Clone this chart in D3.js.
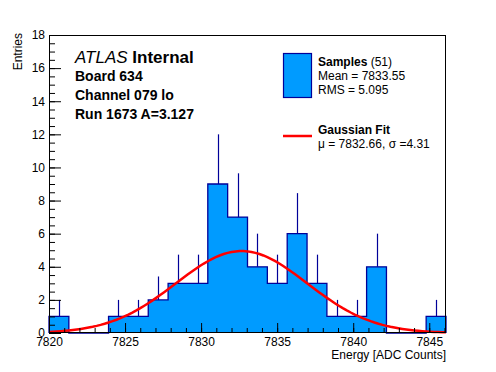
<!DOCTYPE html>
<html>
<head>
<meta charset="utf-8">
<script src="https://cdn.jsdelivr.net/npm/d3@7"></script>
<style>
  body { margin: 0; background: #fff; }
  svg { display: block; font-family: "Liberation Sans", Arial, Helvetica, sans-serif; }
</style>
</head>
<body>
<div id="chart"></div>
<script>
// histogram: 20 bins between xMin and xMax
const xRange = [7820, 7846.1];
const counts = [1, 0, 0, 1, 1, 2, 3, 3, 9, 7, 4, 3, 6, 3, 1, 1, 4, 0, 0, 1];
const xTicks = [7820, 7825, 7830, 7835, 7840, 7845];
const yTicks = [0, 2, 4, 6, 8, 10, 12, 14, 16, 18];

// gaussian fit parameters
const fitMu = 7832.66, fitSigma = 4.31, fitAmp = 4.95;

const infoLines = ["Board 634", "Channel 079 lo", "Run 1673 A=3.127"];

const width = 496, height = 372,
      margin = ({ top: 35, right: 50, bottom: 39, left: 49 });

const fillColor = "#009bff", lineColor = "#000099", fitColor = "#ff0000";

let svg = d3.select("#chart")
    .append("svg")
    .attr("width", width)
    .attr("height", height);

let x = d3.scaleLinear()
    .domain(xRange)
    .range([margin.left, width - margin.right]);

let y = d3.scaleLinear()
    .domain([0, 18])
    .range([height - margin.bottom, margin.top]);

const binW = (xRange[1] - xRange[0]) / counts.length;
const bins = counts.map((c, i) => ({ x0: xRange[0] + i * binW, x1: xRange[0] + (i + 1) * binW, n: c }));

// step outline points, also used for the fill
let pts = [[x(bins[0].x0), y(0)]];
bins.forEach(b => { pts.push([x(b.x0), y(b.n)]); pts.push([x(b.x1), y(b.n)]); });
pts.push([x(bins[bins.length - 1].x1), y(0)]);

svg.append("path")
    .attr("d", d3.line()(pts) + "Z")
    .attr("fill", fillColor);

svg.append("path")
    .attr("d", d3.line()(pts))
    .attr("fill", "none")
    .attr("stroke", lineColor)
    .attr("stroke-width", 1.3);

// error bars (upper half shows above the bar)
svg.append("g")
    .selectAll("line")
    .data(bins.filter(b => b.n > 0))
    .join("line")
    .attr("x1", b => Math.round(x((b.x0 + b.x1) / 2)) + 0.5)
    .attr("x2", b => Math.round(x((b.x0 + b.x1) / 2)) + 0.5)
    .attr("y1", b => y(b.n))
    .attr("y2", b => y(b.n + Math.sqrt(b.n)))
    .attr("stroke", lineColor)
    .attr("stroke-width", 1.2);

// gaussian fit curve
const gauss = v => fitAmp * Math.exp(-0.5 * ((v - fitMu) / fitSigma) ** 2);
const fitPts = d3.range(0, 101).map(i => xRange[0] + i * (xRange[1] - xRange[0]) / 100);
svg.append("path")
    .attr("d", d3.line().x(v => x(v)).y(v => y(gauss(v)))(fitPts))
    .attr("fill", "none")
    .attr("stroke", fitColor)
    .attr("stroke-width", 2.5);

// axes, ROOT style ticks pointing inwards
let xAxis = svg.append("g")
    .attr("transform", `translate(0,${height - margin.bottom})`);
xAxis.call(d3.axisBottom(x).tickValues(d3.range(7820, 7847, 1)).tickSize(-5).tickFormat(""));
xAxis.call(g => g.append("g").call(d3.axisBottom(x).tickValues(xTicks).tickSize(-10).tickPadding(4).tickFormat(d3.format("d"))));

let yAxis = svg.append("g")
    .attr("transform", `translate(${margin.left},0)`);
yAxis.call(d3.axisLeft(y).tickValues(d3.range(0, 18.01, 0.5)).tickSize(-6).tickFormat(""));
yAxis.call(g => g.append("g").call(d3.axisLeft(y).tickValues(yTicks).tickSize(-12).tickPadding(4)));

svg.selectAll(".domain").remove();
svg.selectAll(".tick line").attr("stroke", "#000");
svg.selectAll(".tick text").attr("font-size", 12).attr("fill", "#000").attr("font-family", null);

// frame
svg.append("rect")
    .attr("x", margin.left + 0.5)
    .attr("y", margin.top + 0.5)
    .attr("width", width - margin.left - margin.right - 1)
    .attr("height", height - margin.top - margin.bottom - 1)
    .attr("fill", "none")
    .attr("stroke", "#000");

// axis titles
svg.append("text")
    .attr("text-anchor", "end")
    .attr("x", width - margin.right)
    .attr("y", 359)
    .style("font-size", "12px")
    .text("Energy [ADC Counts]");

svg.append("text")
    .attr("text-anchor", "end")
    .attr("transform", `translate(22,${margin.top - 2}) rotate(-90)`)
    .style("font-size", "12px")
    .text("Entries");

// ATLAS label
let atlas = svg.append("text")
    .attr("x", 75)
    .attr("y", 63)
    .style("font-size", "17px");
atlas.append("tspan").style("font-style", "italic").text("ATLAS");
atlas.append("tspan").style("font-weight", "bold").text(" Internal");

svg.selectAll(".info")
    .data(infoLines)
    .join("text")
    .attr("class", "info")
    .attr("x", 75)
    .attr("y", (d, i) => 81 + i * 19)
    .style("font-size", "14px")
    .style("font-weight", "bold")
    .text(d => d);

// legend
let legend = svg.append("g").style("font-size", "12px");
legend.append("rect")
    .attr("x", 283.5).attr("y", 53.5)
    .attr("width", 28).attr("height", 44)
    .attr("fill", fillColor)
    .attr("stroke", lineColor)
    .attr("stroke-width", 1.2);
let l1 = legend.append("text").attr("x", 318).attr("y", 66);
l1.append("tspan").style("font-weight", "bold").text("Samples");
l1.append("tspan").text(" (51)");
legend.append("text").attr("x", 318).attr("y", 80).text("Mean = 7833.55");
legend.append("text").attr("x", 318).attr("y", 94).text("RMS = 5.095");

legend.append("line")
    .attr("x1", 283).attr("x2", 312)
    .attr("y1", 136).attr("y2", 136)
    .attr("stroke", fitColor)
    .attr("stroke-width", 2.5);
legend.append("text").attr("x", 318).attr("y", 134)
    .style("font-weight", "bold").text("Gaussian Fit");
legend.append("text").attr("x", 318).attr("y", 148).text("\u03bc = 7832.66, \u03c3 =4.31");
</script>
</body>
</html>
